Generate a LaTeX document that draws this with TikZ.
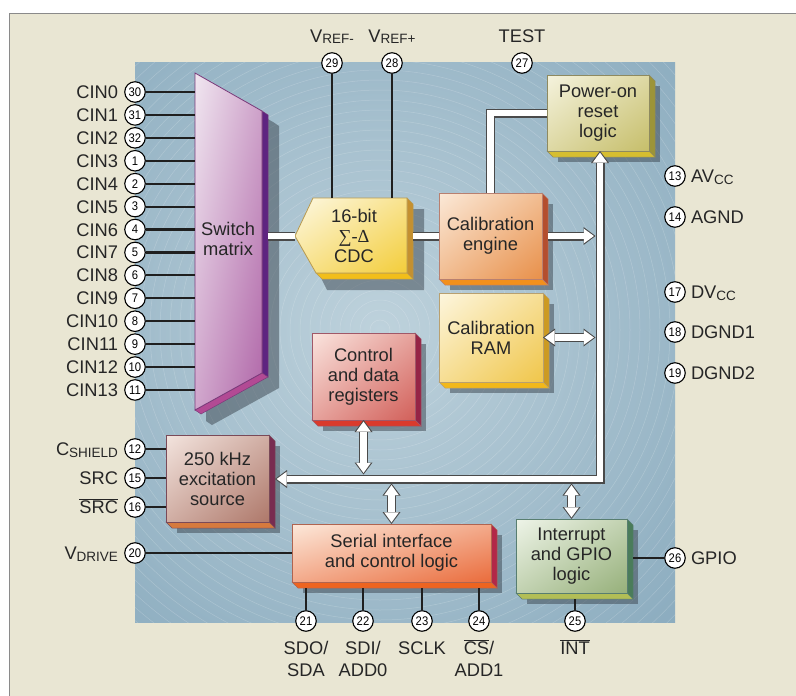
\documentclass[tikz,border=0pt]{standalone}
\usepackage{fontspec}
\setmainfont{Liberation Sans}
\newfontfamily\grfont{Liberation Serif}
\usetikzlibrary{arrows.meta,shadings}
\definecolor{cream}{HTML}{E9E6D3}
\definecolor{framec}{HTML}{8A8A8A}
\definecolor{chipin}{HTML}{BED2DC}
\definecolor{chipout}{HTML}{6E96AE}
\definecolor{txt}{HTML}{262626}
\definecolor{shadowc}{HTML}{3A444E}
\definecolor{busedge}{HTML}{4A4A4A}
\newcommand\mkcol[6]{%
  \definecolor{#1-lt}{HTML}{#2}\definecolor{#1-dk}{HTML}{#3}%
  \definecolor{#1-bt}{HTML}{#4}\definecolor{#1-rt}{HTML}{#5}%
  \definecolor{#1-ln}{HTML}{#6}\colorlet{#1-mid}{#1-lt!50!#1-dk}}
\mkcol{sw}{F0E6F0}{B066A8}{B24A94}{5E2480}{7A3A7A}
\mkcol{cdc}{FDF8E2}{F3CD3A}{F2BE1A}{C49030}{B89A50}
\mkcol{cal}{FBE9D8}{E8904A}{F2901C}{B44E2E}{B88070}
\mkcol{ram}{FDF6DE}{F0C64A}{F2B81A}{CC9A22}{B8A070}
\mkcol{por}{F5F3DE}{C6BE6A}{D6BE30}{9C9438}{8E8A60}
\mkcol{ctl}{FAE4DE}{D2605A}{DA3A2C}{962446}{A05868}
\mkcol{exc}{F3E4DE}{AE786A}{D67A3E}{782C50}{7A4A58}
\mkcol{ser}{FCE8DA}{EA6C3C}{EE6420}{B22848}{B06450}
\mkcol{int}{EEF4E8}{96B07A}{B2BE56}{4A7C5A}{587E70}
\newcommand\pinsub[1]{\raisebox{-1.5pt}{\fontsize{13.5}{13.5}\selectfont #1}}
\newcommand\pinnum[1]{\scalebox{.9}[1]{#1}}
\tikzset{
  pinc/.style={circle,draw=black,fill=white,line width=1.1pt,minimum size=20.5pt,inner sep=0pt,font=\fontsize{12.5}{12.5}\selectfont,text=black},
  lbl/.style={font=\fontsize{18.3}{22}\selectfont,text=txt,inner sep=0pt},
  blocktext/.style={font=\fontsize{18.3}{20}\selectfont,text=txt,inner sep=0pt,outer sep=0pt,align=center},
  pinline/.style={line width=2.2pt,draw=black!88},
  fo/.style={line width=9pt,draw=busedge,line join=miter},
  fi/.style={line width=6.4pt,draw=white,line join=miter},
  fatout/.tip={Triangle[length=12pt,width=18pt,line width=0pt]},
  fatin/.tip={Triangle[length=10pt,width=14.6pt,line width=0pt]},
}
\newcommand\blk[7]{%
  \fill[shadowc,opacity=.5] (#2+11,#3+11) rectangle (#4+11,#5+11);
  \filldraw[fill=#6-rt,draw=#6-ln,line width=.5pt] (#4,#3) -- (#4+6,#3+6) -- (#4+6,#5+6) -- (#4,#5) -- cycle;
  \filldraw[fill=#6-bt,draw=#6-ln,line width=.5pt] (#2,#5) -- (#4,#5) -- (#4+6,#5+6) -- (#2+6,#5+6) -- cycle;
  \shade[upper left=#6-lt,lower right=#6-dk,upper right=#6-mid,lower left=#6-mid] (#2,#3) rectangle (#4,#5);
  \draw[#6-ln,line width=.8pt] (#2,#3) rectangle (#4,#5);
  \node[blocktext,minimum width={(#4-#2)*1pt},minimum height={(#5-#3)*1pt}] (#1) at ({(#2+#4)/2},{(#3+#5)/2}) {#7};
}
\begin{document}
\begin{tikzpicture}[x=1pt,y=-1pt]
\useasboundingbox (0,0) rectangle (796,696);
\fill[white] (0,0) rectangle (796,696);
\fill[cream] (9,13) rectangle (800,700);
\draw[framec,line width=1pt] (9,700) -- (9,13) -- (800,13);
% chip
\begin{scope}
  \clip (135,62) rectangle (675,622);
  \shade[inner color=chipin,outer color=chipout] (380,330) circle (660);
  \foreach \r in {10,20,...,600} \draw[white,opacity=.2,line width=.5pt] (380,330) circle (\r);
\end{scope}
% switch matrix
\fill[shadowc,opacity=.5] (206,84) -- (273,122) -- (279,126) -- (279,388) -- (212,425) -- (206,421) -- cycle;
\filldraw[fill=sw-rt,draw=sw-ln,line width=.5pt] (262,111) -- (268,115) -- (268,377) -- (262,373) -- cycle;
\filldraw[fill=sw-bt,draw=sw-ln,line width=.5pt] (195,410) -- (262,373) -- (268,377) -- (201,414) -- cycle;
\shade[upper left=sw-lt,lower right=sw-dk,upper right=sw-mid,lower left=sw-mid] (195,73) -- (262,111) -- (262,373) -- (195,410) -- cycle;
\draw[sw-ln,line width=.8pt] (195,73) -- (262,111) -- (262,373) -- (195,410) -- cycle;
\node[blocktext] (sw) at (228,239) {Switch\\matrix};
\coordinate (swL) at (195,240);
\coordinate (swR) at (268,236);
% CDC
\fill[shadowc,opacity=.5] (324,209) -- (424,209) -- (424,290) -- (327,290) -- (306,247) -- cycle;
\filldraw[fill=cdc-rt,draw=cdc-ln,line width=.5pt] (407,198) -- (413,204) -- (413,279) -- (407,273) -- cycle;
\filldraw[fill=cdc-bt,draw=cdc-ln,line width=.5pt] (316,273) -- (407,273) -- (413,279) -- (322,279) -- cycle;
\shade[upper left=cdc-lt,lower right=cdc-dk,upper right=cdc-mid,lower left=cdc-mid] (313,198) -- (407,198) -- (407,273) -- (316,273) -- (295,236) -- cycle;
\draw[cdc-ln,line width=.8pt] (313,198) -- (407,198) -- (407,273) -- (316,273) -- (295,236) -- cycle;
\node[blocktext] (cdc) at (354,236) {16-bit\\{\grfont ∑-Δ}\\CDC};
\coordinate (cdcL) at (295,236);
\coordinate (cdcR) at (413,236);
\coordinate (cdcT) at (354,198);
% blocks
\blk{cal}{439}{193}{542}{279}{cal}{Calibration\\engine}
\blk{ram}{439}{293}{543}{382}{ram}{Calibration\\RAM}
\blk{por}{547}{75}{649}{151}{por}{Power-on\\reset\\logic}
\blk{ctl}{312}{333}{415}{420}{ctl}{Control\\and data\\registers}
\blk{exc}{166}{435}{269}{522}{exc}{250 kHz\\excitation\\source}
\blk{ser}{292}{524}{491}{582}{ser}{Serial interface\\and control logic}
\blk{int}{516}{519}{627}{593}{int}{Interrupt\\and GPIO\\logic}
% white bars and arrows
\coordinate (busc) at (600,479);
\coordinate (busW) at (595.5,479);
\coordinate (busN) at (600,474.5);
\coordinate (busS) at (600,483.5);
\coordinate (excR) at (275,479);
\coordinate (calR) at (548,236);
\foreach \s in {fo,fi} {
  \draw[\s] (swR) -- (cdcL);
  \draw[\s] (cdcR) -- (cal.west);
  \draw[\s] (cal.north) |- (por.west);
}
\draw[fo,fatout-fatout] (por.south -| busc) -- (busc) -- (excR);
\draw[fi,fatin-fatin,shorten <=1.6pt,shorten >=1.6pt] (por.south -| busc) -- (busc) -- (excR);
\draw[fo,-fatout] (calR) -- (calR -| busW);
\draw[fi,-fatin,shorten >=1.6pt] (calR) -- (calR -| busW);
\foreach \s/\t/\u in {fo/fatout/0pt,fi/fatin/1.6pt} {
  \draw[\s,\t-\t,shorten <=\u,shorten >=\u] (ram.east) -- (ram.east -| busW);
  \draw[\s,\t-\t,shorten <=\u,shorten >=\u] (ctl.south) -- (ctl.south |- busN);
  \draw[\s,\t-\t,shorten <=\u,shorten >=\u] (ser.north |- busS) -- (ser.north);
  \draw[\s,\t-\t,shorten <=\u,shorten >=\u] (int.north |- busS) -- (int.north);
}
% left pins CIN
\foreach \n/\lab [count=\i from 0] in {30/CIN0,31/CIN1,32/CIN2,1/CIN3,2/CIN4,3/CIN5,4/CIN6,5/CIN7,6/CIN8,7/CIN9,8/CIN10,9/CIN11,10/CIN12,11/CIN13} {
  \node[pinc] (p\n) at (135,{92+22.92*\i}) {\pinnum{\n}};
  \node[lbl,anchor=base east] (l\n) at ([xshift=-6pt,yshift=-6.5pt]p\n.west) {\lab};
  \draw[pinline] (p\n) -- (p\n -| swL);
}
% other left pins
\node[pinc] (p12) at (135,449) {\pinnum{12}};
\node[pinc] (p15) at (135,478) {\pinnum{15}};
\node[pinc] (p16) at (135,507) {\pinnum{16}};
\node[pinc] (p20) at (135,553) {\pinnum{20}};
\node[lbl,anchor=base east] (l12) at ([xshift=-6pt,yshift=-6.5pt]p12.west) {C\pinsub{SHIELD}};
\node[lbl,anchor=base east] (l15) at ([xshift=-6pt,yshift=-6.5pt]p15.west) {SRC};
\node[lbl,anchor=base east] (l16) at ([xshift=-6pt,yshift=-6.5pt]p16.west) {$\overline{\mbox{SRC}}$};
\node[lbl,anchor=base east] (l20) at ([xshift=-6pt,yshift=-6.5pt]p20.west) {V\pinsub{DRIVE}};
\draw[pinline] (p12) -- (p12 -| exc.west);
\draw[pinline] (p15) -- (p15 -| exc.west);
\draw[pinline] (p16) -- (p16 -| exc.west);
\draw[pinline] (p20) -- (p20 -| ser.west);
% top pins
\node[pinc] (p29) at (332,63) {\pinnum{29}};
\node[pinc] (p28) at (392,63) {\pinnum{28}};
\node[pinc] (p27) at (522,63) {\pinnum{27}};
\node[lbl,anchor=base] (l29) at ([yshift=10pt]p29.north) {V\pinsub{REF-}};
\node[lbl,anchor=base] (l28) at ([yshift=10pt]p28.north) {V\pinsub{REF+}};
\node[lbl,anchor=base] (l27) at ([yshift=10pt]p27.north) {TEST};
\draw[pinline] (p29) -- (p29 |- cdcT);
\draw[pinline] (p28) -- (p28 |- cdcT);
% right pins
\foreach \n/\yy/\lab in {13/176/AV\pinsub{CC},14/217/AGND,17/292/DV\pinsub{CC},18/332/DGND1,19/373/DGND2,26/558/GPIO} {
  \node[pinc] (p\n) at (675,\yy) {\pinnum{\n}};
  \node[lbl,anchor=base west] (l\n) at ([xshift=5pt,yshift=-6.5pt]p\n.east) {\lab};
}
\coordinate (intR) at (633,556);
\draw[pinline] (p26) -- (p26 -| intR);
% bottom pins
\coordinate (serB) at (391,588);
\coordinate (intB) at (571,599);
\foreach \n/\xx in {21/306,22/363,23/422,24/479} {
  \node[pinc] (p\n) at (\xx,621) {\pinnum{\n}};
  \draw[pinline] (p\n) -- (p\n |- serB);
}
\node[pinc] (p25) at (575,621) {\pinnum{25}};
\draw[pinline] (p25) -- (p25 |- intB);
\node[lbl,anchor=base] (l21a) at (306,654) {SDO/};
\node[lbl,anchor=base] (l21b) at (306,676) {SDA};
\node[lbl,anchor=base] (l22a) at (363,654) {SDI/};
\node[lbl,anchor=base] (l22b) at (363,676) {ADD0};
\node[lbl,anchor=base] (l23a) at (422,654) {SCLK};
\node[lbl,anchor=base] (l24a) at (479,654) {$\overline{\mbox{CS}}$/};
\node[lbl,anchor=base] (l24b) at (479,676) {ADD1};
\node[lbl,anchor=base] (l25a) at (575,654) {$\overline{\mbox{INT}}$};
\end{tikzpicture}
\end{document}
